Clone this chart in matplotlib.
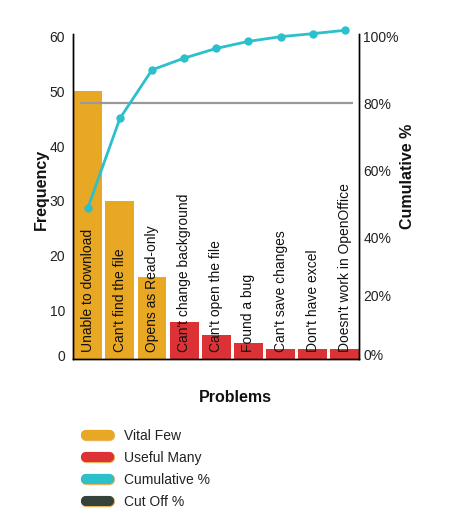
import matplotlib
matplotlib.use("Agg")
import matplotlib.pyplot as plt
import matplotlib.patheffects as pe
from matplotlib.lines import Line2D

plt.rcParams['font.family'] = ['Liberation Sans', 'DejaVu Sans']

# data
problems = ["Unable to download", "Can't find the file", "Opens as Read-only",
            "Can't change background", "Can't open the file", "Found a bug",
            "Can't save changes", "Don't have excel", "Doesn't work in OpenOffice"]
frequency = [50, 30, 16, 7.8, 5.4, 4.1, 3, 3, 3]
cumulative_pct = [48.6, 75.4, 89.9, 93.4, 96.3, 98.4, 99.8, 100.7, 101.7]
group = ["vital", "vital", "vital", "useful", "useful", "useful", "useful", "useful", "useful"]
cutoff_pct = 80

left_ticks = [0, 10, 20, 30, 40, 50, 60]
right_ticks = ["0%", "20%", "40%", "60%", "80%", "100%"]

ORANGE = '#E9A823'
RED = '#DC3236'
TEAL = '#2BC0CB'
DARK = '#36423C'
GRAY = '#999999'
TXT = '#222222'

fig = plt.figure(figsize=(4.59, 5.27), dpi=100)
ax = fig.add_axes([73.3 / 459, 168 / 527, 286 / 459, 325 / 527])
ax2 = ax.twinx()

x = list(range(len(problems)))
colors = [ORANGE if g == "vital" else RED for g in group]
ax.bar(x, frequency, width=0.9, color=colors, zorder=2)
ax.set_xlim(-0.45, len(problems) - 0.55)
ax.set_ylim(1.1, 60.5)

for i, lab in enumerate(problems):
    ax.text(i, 2.4, lab, rotation=90, ha='center', va='bottom',
            fontsize=10, color='#111111', zorder=3)

# tick labels (the zero label sits at the axis floor, as in the reference)
ax.set_yticks([1.8] + left_ticks[1:])
ax.set_yticklabels([str(v) for v in left_ticks], fontsize=10, color=TXT)
ax.set_xticks([])
ax.tick_params(axis='y', length=0, pad=6)

ax2.set_ylim(3.6, 100.6)
ax2.set_yticks([5, 22.5, 40, 60, 80, 100])
ax2.set_yticklabels(right_ticks, fontsize=10, color=TXT)
ax2.tick_params(axis='y', length=0, pad=3)

ax2.hlines(cutoff_pct, -0.25, 8.25, color=GRAY, lw=1.6, zorder=2)
ax2.plot(x, cumulative_pct, color=TEAL, lw=2, marker='o', markersize=5,
         clip_on=False, zorder=4)

for a in (ax, ax2):
    a.spines['top'].set_visible(False)
    for s in ('left', 'right', 'bottom'):
        a.spines[s].set_color('black')
        a.spines[s].set_linewidth(1)

fig.text(41.7 / 459, 1 - 189 / 527, "Frequency", rotation=90, ha='center', va='center',
         fontsize=11.5, fontweight='bold', color='#111111')
fig.text(408 / 459, 1 - 176.5 / 527, "Cumulative %", rotation=90, ha='center', va='center',
         fontsize=11.5, fontweight='bold', color='#111111')
fig.text(235 / 459, 1 - 397 / 527, "Problems", ha='center', va='center',
         fontsize=11.5, fontweight='bold', color='#111111')

stroke = [pe.withStroke(linewidth=8.2, foreground='#E8B45A')]
handles = []
for c, lab in [(ORANGE, "Vital Few"), (RED, "Useful Many"),
               (TEAL, "Cumulative %"), (DARK, "Cut Off %")]:
    h = Line2D([0, 1], [0, 0], color=c, lw=7.2, solid_capstyle='round', label=lab)
    h.set_path_effects(stroke + [pe.Normal()])
    handles.append(h)
leg = fig.legend(handles=handles, loc='upper left', bbox_to_anchor=(86 / 459, 1 - 429 / 527),
                 frameon=False, fontsize=10, handlelength=1.65, handletextpad=1.08,
                 labelspacing=0.58, borderpad=0, borderaxespad=0)
for t in leg.get_texts():
    t.set_color(TXT)

fig.savefig("out.png", dpi=100)
